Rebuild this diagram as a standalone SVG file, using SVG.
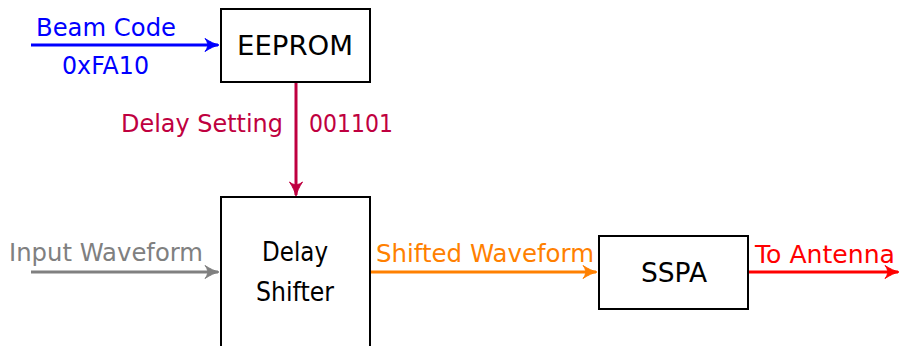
<svg xmlns="http://www.w3.org/2000/svg" width="900" height="346" viewBox="0 0 900 346">
<style>
text{font-family:"DejaVu Sans","Liberation Sans",sans-serif;font-size:25px}
.node{fill:#fff;stroke:#000;stroke-width:2}
.lbl{fill:#000;text-anchor:middle;font-size:26px}
.c{fill:none;stroke-width:3}
.head{stroke-width:1;stroke-linejoin:round}
</style>
<defs>
<marker id="ab" markerUnits="userSpaceOnUse" markerWidth="20" markerHeight="20" refX="0" refY="0" viewBox="-14 -10 16 20" orient="auto" overflow="visible"><path class="head" fill="#0000FF" stroke="#0000FF" d="M1,0 C-3,-1 -8,-3 -13,-6.5 C-9.5,-2.5 -9.5,2.5 -13,6.5 C-8,3 -3,1 1,0 Z"/></marker>
<marker id="ap" markerUnits="userSpaceOnUse" markerWidth="20" markerHeight="20" refX="0" refY="0" viewBox="-14 -10 16 20" orient="auto" overflow="visible"><path class="head" fill="#BF0040" stroke="#BF0040" d="M1,0 C-3,-1 -8,-3 -13,-6.5 C-9.5,-2.5 -9.5,2.5 -13,6.5 C-8,3 -3,1 1,0 Z"/></marker>
<marker id="ag" markerUnits="userSpaceOnUse" markerWidth="20" markerHeight="20" refX="0" refY="0" viewBox="-14 -10 16 20" orient="auto" overflow="visible"><path class="head" fill="#808080" stroke="#808080" d="M1,0 C-3,-1 -8,-3 -13,-6.5 C-9.5,-2.5 -9.5,2.5 -13,6.5 C-8,3 -3,1 1,0 Z"/></marker>
<marker id="ao" markerUnits="userSpaceOnUse" markerWidth="20" markerHeight="20" refX="0" refY="0" viewBox="-14 -10 16 20" orient="auto" overflow="visible"><path class="head" fill="#FF8000" stroke="#FF8000" d="M1,0 C-3,-1 -8,-3 -13,-6.5 C-9.5,-2.5 -9.5,2.5 -13,6.5 C-8,3 -3,1 1,0 Z"/></marker>
<marker id="ar" markerUnits="userSpaceOnUse" markerWidth="20" markerHeight="20" refX="0" refY="0" viewBox="-14 -10 16 20" orient="auto" overflow="visible"><path class="head" fill="#FF0000" stroke="#FF0000" d="M1,0 C-3,-1 -8,-3 -13,-6.5 C-9.5,-2.5 -9.5,2.5 -13,6.5 C-8,3 -3,1 1,0 Z"/></marker>
</defs>
<g id="eeprom"><rect class="node" x="221" y="9" width="149" height="73"/><text class="lbl" x="295" y="54.5" textLength="116" lengthAdjust="spacingAndGlyphs">EEPROM</text></g>
<g id="delay-shifter"><rect class="node" x="221" y="197" width="149" height="170"/><text class="lbl" x="295" y="261" textLength="66" lengthAdjust="spacingAndGlyphs">Delay</text><text class="lbl" x="295" y="301" textLength="78" lengthAdjust="spacingAndGlyphs">Shifter</text></g>
<g id="sspa"><rect class="node" x="599" y="236" width="149" height="73"/><text class="lbl" x="674" y="282" textLength="66" lengthAdjust="spacingAndGlyphs">SSPA</text></g>
<g id="connectors">
<line class="c" stroke="#0000FF" x1="31" y1="45" x2="218" y2="45" marker-end="url(#ab)"/>
<text x="36" y="36" fill="#0000FF" textLength="140" lengthAdjust="spacingAndGlyphs">Beam Code</text>
<text x="62" y="74" fill="#0000FF" textLength="87" lengthAdjust="spacingAndGlyphs">0xFA10</text>
<line class="c" stroke="#BF0040" x1="296" y1="83" x2="296" y2="195" marker-end="url(#ap)"/>
<text x="121" y="132" fill="#BF0040" textLength="162" lengthAdjust="spacingAndGlyphs">Delay Setting</text>
<text x="309" y="132" fill="#BF0040" textLength="84" lengthAdjust="spacingAndGlyphs">001101</text>
<line class="c" stroke="#808080" x1="31" y1="272" x2="218" y2="272" marker-end="url(#ag)"/>
<text x="9" y="261" fill="#808080" textLength="194" lengthAdjust="spacingAndGlyphs">Input Waveform</text>
<line class="c" stroke="#FF8000" x1="371" y1="272" x2="596" y2="272" marker-end="url(#ao)"/>
<text x="376" y="262" fill="#FF8000" textLength="218" lengthAdjust="spacingAndGlyphs">Shifted Waveform</text>
<line class="c" stroke="#FF0000" x1="749" y1="272" x2="898" y2="272" marker-end="url(#ar)"/>
<text x="755" y="263" fill="#FF0000" textLength="140" lengthAdjust="spacingAndGlyphs">To Antenna</text>
</g>
</svg>
